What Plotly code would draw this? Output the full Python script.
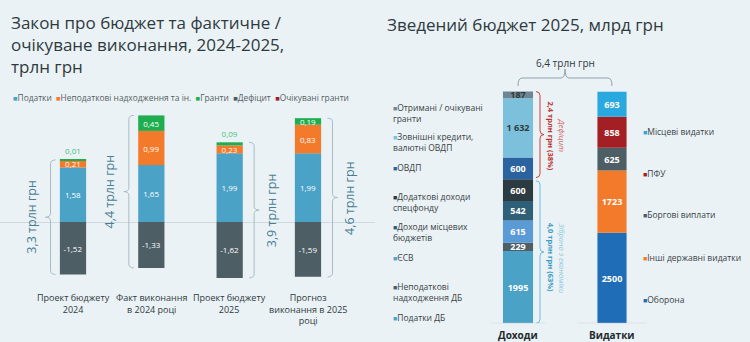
import plotly.graph_objects as go

# ---------------- data ----------------
# Left panel: budget law vs. actual / expected execution, трлн грн
scenarios = ["Проект бюджету<br>2024", "Факт виконання<br>в 2024 році",
             "Проект бюджету<br>2025", "Прогноз<br>виконання в 2025<br>році"]
taxes = [1.58, 1.65, 1.99, 1.99]
non_tax = [0.21, 0.99, 0.23, 0.83]
grants = [0.01, 0.45, 0.09, 0.19]
deficit = [-1.52, -1.33, -1.62, -1.59]
left_legend = ["Податки", "Неподаткові надходження та ін.", "Гранти", "Дефіцит", "Очікувані гранти"]

# Right panel: consolidated budget 2025, млрд грн (stacked bottom -> top)
revenue_items = ["Податки ДБ", "Неподаткові<br>надходження ДБ", "ЄСВ",
                 "Доходи місцевих<br>бюджетів", "Додаткові доходи<br>спецфонду", "ОВДП",
                 "Зовнішні кредити,<br>валютні ОВДП", "Отримані / очікувані<br>гранти"]
revenue_values = [1995, 229, 615, 542, 600, 600, 1632, 187]
expense_items = ["Оборона", "Інші державні видатки", "Боргові виплати", "ПФУ", "Місцеві видатки"]
expense_values = [2500, 1723, 625, 858, 693]
columns = ["Доходи", "Видатки"]

# ---------------- style ----------------
W, H = 750, 342
BG = "#eaf2f5"
FONT = "Open Sans"
DARK = "#2f3a3f"

C_TAX = "#4aa2c6"
C_NONTAX = "#f37a2b"
C_GRANT = "#1fae4f"
C_DEF = "#4e5e65"
C_EXPGRANT = "#a31f24"
left_colors = [C_TAX, C_NONTAX, C_GRANT, C_DEF, C_EXPGRANT]

revenue_colors = ["#4aa2c6", "#4e5e65", "#5a9ad6", "#2f6078", "#2c3a41", "#2b63a0", "#7cc0dc", "#6d8691"]
revenue_text_colors = ["white"] * 6 + [DARK, DARK]
expense_colors = ["#1f6db7", "#f37a2b", "#4e5e65", "#a31f24", "#2aa8e0"]

revenue_legend_y = [317, 292, 257, 231.5, 202, 167, 142, 113]
expense_legend_y = [299, 257, 214, 173, 131]


def px(p):
    return p / W


def py(p):
    return 1 - p / H


def ua(x, digits=1):
    return f"{x:.{digits}f}".replace(".", ",")


# left panel geometry (pixels)
L_X0, L_DX = 73.0, 78.33          # first bar centre, spacing
L_ZERO, L_K = 222.0, 34.5         # zero line, px per трлн
L_TOP, L_BOT = 100.0, 290.0
left_xrange = [(0 - L_X0) / L_DX, (375 - L_X0) / L_DX]
left_yrange = [-(L_BOT - L_ZERO) / L_K, (L_ZERO - L_TOP) / L_K]

# right panel geometry (pixels)
R_X0, R_DX = 518.0, 94.0
R_BASE, R_K = 323.3, 231.7 / 6400  # px per млрд
R_TOP = 80.0
right_xrange = [(375 - R_X0) / R_DX, (750 - R_X0) / R_DX]
right_yrange = [0, (R_BASE - R_TOP) / R_K]

fig = go.Figure()

# ---------------- left stacked bars ----------------
lx = list(range(len(scenarios)))
for name, vals, color in [("Податки", taxes, C_TAX), ("Неподаткові надходження та ін.", non_tax, C_NONTAX),
                          ("Дефіцит", deficit, C_DEF)]:
    fig.add_trace(go.Bar(
        x=lx, y=vals, name=name, marker=dict(color=color, line=dict(width=0)),
        width=0.335, xaxis="x", yaxis="y",
        texttemplate="%{y:.2f}", textposition="inside", insidetextanchor="middle",
        textfont=dict(family=FONT, size=8, color="white"), constraintext="none",
        hoverinfo="skip", showlegend=False))

fig.add_trace(go.Bar(
    x=lx, y=grants, name="Гранти", marker=dict(color=C_GRANT, line=dict(width=0)),
    width=0.335, xaxis="x", yaxis="y",
    texttemplate="%{y:.2f}",
    textposition=["outside" if v < 0.1 else "inside" for v in grants],
    insidetextanchor="middle",
    insidetextfont=dict(family=FONT, size=8, color="white"),
    outsidetextfont=dict(family=FONT, size=8, color="#3cc47a"),
    constraintext="none", cliponaxis=False, hoverinfo="skip", showlegend=False))


def vbrace(xl, ytop, ybot, d, w, ry):
    """Vertical curly brace; end hooks point in direction d, nub points opposite."""
    xe = xl + d * w
    xn = xl - d * w
    ym = (ytop + ybot) / 2
    return (f"M{xe},{ytop} Q{xl},{ytop} {xl},{ytop - ry} "
            f"L{xl},{ym + ry} Q{xl},{ym} {xn},{ym} "
            f"Q{xl},{ym} {xl},{ym - ry} "
            f"L{xl},{ybot + ry} Q{xl},{ybot} {xe},{ybot}")


shapes = []
annotations = []

# braces with totals around each left bar
BR_COL = "#a9bcc4"
for i in lx:
    top = taxes[i] + non_tax[i] + grants[i]
    bot = deficit[i]
    total = top - bot
    side = -1 if i < 2 else 1
    off = 22.5 if side < 0 else 24.5
    xl = i + side * off / L_DX
    shapes.append(dict(type="path", xref="x", yref="y",
                       path=vbrace(xl, top, bot, -side, 5 / L_DX, 4 / L_K),
                       line=dict(color=BR_COL, width=1)))
    annotations.append(dict(
        x=i + side * 41.5 / L_DX, xref="x", y=(top + bot) / 2, yref="y",
        text=ua(total) + " трлн грн", textangle=-90,
        showarrow=False, font=dict(family=FONT, size=12.5, color="#4a7f93"),
        xanchor="center", yanchor="middle"))
    annotations.append(dict(
        x=i, xref="x", y=py(289), yref="paper", text=scenarios[i],
        showarrow=False, xanchor="center", yanchor="top",
        font=dict(family=FONT, size=9, color=DARK)))

# left legend
leg = "&nbsp;&nbsp;".join(
    f"<span style='color:{c};font-size:7.5px'>■</span>{t}" for t, c in zip(left_legend, left_colors))
annotations.append(dict(x=px(11), y=py(97), xref="paper", yref="paper", text=leg,
                        showarrow=False, xanchor="left", yanchor="middle",
                        font=dict(family=FONT, size=8.4, color="#555f63")))

# ---------------- right stacked bars ----------------
for name, val, color, tcol in zip(revenue_items, revenue_values, revenue_colors, revenue_text_colors):
    fig.add_trace(go.Bar(
        x=[0], y=[val], name=name, marker=dict(color=color, line=dict(width=0)),
        width=0.32, xaxis="x2", yaxis="y2",
        # the external credits figure is printed with digit grouping
        texttemplate="%{y:,}" if "кредити" in name else "%{y}",
        textposition="inside", insidetextanchor="middle", constraintext="none",
        textfont=dict(family=FONT, size=9, color=tcol, weight=700),
        hoverinfo="skip", showlegend=False))
for name, val, color in zip(expense_items, expense_values, expense_colors):
    fig.add_trace(go.Bar(
        x=[1], y=[val], name=name, marker=dict(color=color, line=dict(width=0)),
        width=0.31, xaxis="x2", yaxis="y2",
        texttemplate="%{y}", textposition="inside", insidetextanchor="middle",
        constraintext="none",
        textfont=dict(family=FONT, size=9, color="white", weight=700),
        hoverinfo="skip", showlegend=False))

# right legends
for name, color, yy in zip(revenue_items, revenue_colors, revenue_legend_y):
    annotations.append(dict(
        x=px(391), y=py(yy), xref="paper", yref="paper",
        text=f"<span style='color:{color};font-size:7px'>■</span>" + name,
        showarrow=False, xanchor="left", yanchor="middle", align="left",
        font=dict(family=FONT, size=8.5, color="#3a4246")))
for name, color, yy in zip(expense_items, expense_colors, expense_legend_y):
    annotations.append(dict(
        x=px(641), y=py(yy), xref="paper", yref="paper",
        text=f"<span style='color:{color};font-size:7px'>■</span>" + name,
        showarrow=False, xanchor="left", yanchor="middle", align="left",
        font=dict(family=FONT, size=8.5, color="#3a4246")))

# column labels and baselines
for i, c in enumerate(columns):
    annotations.append(dict(x=i, xref="x2", y=py(335), yref="paper", text=f"<b>{c}</b>",
                            showarrow=False, xanchor="center", yanchor="middle",
                            font=dict(family=FONT, size=10, color="#1f2a2e")))
    half = 0.3 if i == 0 else 0.37
    shapes.append(dict(type="line", xref="x2", yref="y2", x0=i - half, x1=i + half, y0=0, y1=0,
                       line=dict(color="#c9d3d8", width=1)))

# deficit / economy braces next to revenues
rev_total = sum(revenue_values)
deficit_part = sum(revenue_values[5:])
economy_part = sum(revenue_values[:5])
split = rev_total - deficit_part
bx = (540 - R_X0) / R_DX
gap = 45
shapes.append(dict(type="path", xref="x2", yref="y2",
                   path=vbrace(bx, rev_total, split + gap, -1, 4 / R_DX, 4 / R_K),
                   line=dict(color="#c9423e", width=1)))
shapes.append(dict(type="path", xref="x2", yref="y2",
                   path=vbrace(bx, split - gap, 0, -1, 4 / R_DX, 4 / R_K),
                   line=dict(color="#6cc0e0", width=1)))
red_mid = (rev_total + split) / 2
blue_mid = split / 2
annotations += [
    dict(x=(551 - R_X0) / R_DX, xref="x2", y=red_mid, yref="y2",
         text=f"<b>{ua(deficit_part / 1000)} трлн грн (38%)</b>",
         textangle=90, showarrow=False, font=dict(family=FONT, size=7.5, color="#c0312d")),
    dict(x=(563 - R_X0) / R_DX, xref="x2", y=red_mid, yref="y2", text="<i>Дефіцит</i>",
         textangle=90, showarrow=False, font=dict(family=FONT, size=8, color="#d8625d")),
    dict(x=(551 - R_X0) / R_DX, xref="x2", y=blue_mid - 150, yref="y2",
         text=f"<b>{ua(economy_part / 1000)} трлн грн (63%)</b>",
         textangle=90, showarrow=False, font=dict(family=FONT, size=7.5, color="#3a9cc8")),
    dict(x=(562 - R_X0) / R_DX, xref="x2", y=blue_mid - 200, yref="y2",
         text="<i>Зібрано з економіки</i>",
         textangle=90, showarrow=False, font=dict(family=FONT, size=7.5, color="#8cc8e0")),
]

# horizontal brace over both columns
yl, ye, yn = py(78), py(86), py(69)
r = 4 / R_DX
hb = (f"M0,{ye} Q0,{yl} {r},{yl} L{0.5 - r},{yl} Q0.5,{yl} 0.5,{yn} "
      f"Q0.5,{yl} {0.5 + r},{yl} L{1 - r},{yl} Q1,{yl} 1,{ye}")
shapes.append(dict(type="path", xref="x2", yref="paper", path=hb,
                   line=dict(color="#8fa3ad", width=1)))
annotations.append(dict(x=0.5, xref="x2", y=py(54), yref="paper",
                        text=ua(rev_total / 1000) + " трлн грн",
                        showarrow=False, font=dict(family=FONT, size=10, color=DARK)))

# titles
annotations.append(dict(x=px(9), y=py(45), xref="paper", yref="paper",
                        text="Закон про бюджет та фактичне /<br>очікуване виконання, 2024-2025,<br>трлн грн",
                        showarrow=False, xanchor="left", yanchor="middle", align="left",
                        font=dict(family=FONT, size=17, color=DARK)))
annotations.append(dict(x=px(385), y=py(25), xref="paper", yref="paper",
                        text="Зведений бюджет 2025, млрд грн",
                        showarrow=False, xanchor="left", yanchor="middle",
                        font=dict(family=FONT, size=17, color=DARK)))

fig.update_layout(
    width=W, height=H, margin=dict(l=0, r=0, t=0, b=0),
    paper_bgcolor=BG, plot_bgcolor=BG,
    barmode="relative", separators=", ",
    font=dict(family=FONT),
    xaxis=dict(domain=[0, 0.5], range=left_xrange, visible=False),
    yaxis=dict(domain=[py(L_BOT), py(L_TOP)], range=left_yrange, showgrid=False,
               showticklabels=False, zeroline=True, zerolinecolor="#cfd9dd", zerolinewidth=1),
    xaxis2=dict(domain=[0.5, 1], range=right_xrange, visible=False),
    yaxis2=dict(domain=[py(R_BASE), py(R_TOP)], range=right_yrange, visible=False),
    shapes=shapes, annotations=annotations, showlegend=False,
)

fig.write_html("out.html")
